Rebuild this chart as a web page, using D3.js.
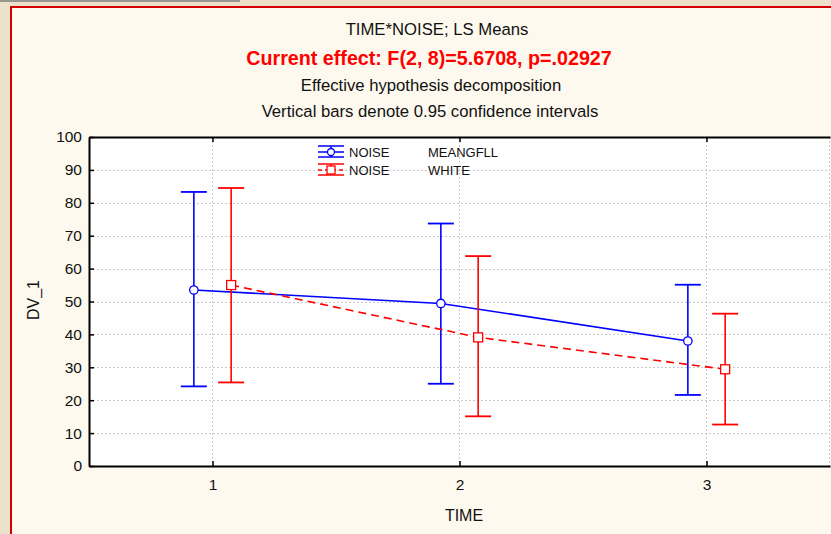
<!DOCTYPE html>
<html>
<head>
<meta charset="utf-8">
<script src="https://cdn.jsdelivr.net/npm/d3@7"></script>
<style>
  html, body { margin: 0; padding: 0; background: #ece2cc; }
  svg { display: block; font-family: Arial, "Liberation Sans", sans-serif; }
</style>
</head>
<body>
<script>
// LS means of DV_1 by TIME for each NOISE level, with 95% confidence limits
const times = [1, 2, 3];
const yTicks = [0, 10, 20, 30, 40, 50, 60, 70, 80, 90, 100];

const meangfllMean  = [53.5, 49.4, 38.0];
const meangfllLower = [24.2, 25.0, 21.6];
const meangfllUpper = [83.3, 73.7, 55.1];

const whiteMean  = [55.0, 39.1, 29.4];
const whiteLower = [25.4, 15.1, 12.6];
const whiteUpper = [84.5, 63.8, 46.3];

const titleLines = [
  "TIME*NOISE; LS Means",
  "Current effect: F(2, 8)=5.6708, p=.02927",
  "Effective hypothesis decomposition",
  "Vertical bars denote 0.95 confidence intervals"
];

const W = 831, H = 534;
const svg = d3.select("body").append("svg").attr("width", W).attr("height", H);

// window background and frame
svg.append("rect").attr("width", W).attr("height", H).attr("fill", "#ece2cc");
svg.append("rect").attr("x", 0).attr("y", 0).attr("width", 240).attr("height", 2).attr("fill", "#9a968e");
svg.append("rect").attr("x", 11).attr("y", 7).attr("width", W).attr("height", H)
  .attr("fill", "#fef9ee").attr("stroke", "#d40000").attr("stroke-width", 2);

// titles
const titleY = [35, 65, 91, 117];
const titleX = [437, 429, 431, 430];
titleLines.forEach((t, i) => {
  svg.append("text")
    .attr("x", titleX[i]).attr("y", titleY[i])
    .attr("text-anchor", "middle")
    .attr("font-size", i === 1 ? 19.7 : 16.7)
    .attr("font-weight", i === 1 ? "bold" : "normal")
    .attr("fill", i === 1 ? "#ff0000" : "#111")
    .text(t);
});

// plot area
const pLeft = 89, pRight = 830, pTop = 137, pBottom = 466;
const x = d3.scaleLinear().domain([0.5, 3.5]).range([pLeft, pRight]);
const y = d3.scaleLinear().domain([0, 100]).range([pBottom, pTop]);
const offset = 0.0755;

svg.append("rect").attr("x", pLeft).attr("y", pTop)
  .attr("width", pRight - pLeft).attr("height", pBottom - pTop).attr("fill", "#fff");

// dotted grid
const grid = svg.append("g").attr("stroke", "#c8c8c8").attr("stroke-width", 1)
  .attr("stroke-dasharray", "2,2");
yTicks.filter(v => v > 0 && v < 100).forEach(v => {
  grid.append("line").attr("x1", pLeft).attr("x2", pRight)
    .attr("y1", Math.round(y(v)) + 0.5).attr("y2", Math.round(y(v)) + 0.5);
});
times.concat([3.5]).forEach(v => {
  grid.append("line").attr("y1", pTop).attr("y2", pBottom)
    .attr("x1", Math.round(x(v)) - 0.5).attr("x2", Math.round(x(v)) - 0.5);
});

// axes with inward ticks
const yAxis = d3.axisLeft(y).tickValues(yTicks).tickSizeInner(-5).tickSizeOuter(0).tickPadding(7);
const gy = svg.append("g").attr("transform", `translate(${pLeft},0)`).call(yAxis);
const xAxis = d3.axisBottom(x).tickValues(times).tickFormat(d3.format("d"))
  .tickSizeInner(-5).tickSizeOuter(0).tickPadding(13);
const gx = svg.append("g").attr("transform", `translate(0,${pBottom})`).call(xAxis);
const xTop = d3.axisTop(x).tickValues(times).tickFormat("").tickSizeInner(-5).tickSizeOuter(0);
const gt = svg.append("g").attr("transform", `translate(0,${pTop})`).call(xTop);
[gx, gy, gt].forEach(g => {
  g.select(".domain").attr("stroke", "#000").attr("stroke-width", 2);
  g.selectAll(".tick line").attr("stroke", "#000").attr("stroke-width", 1.5);
  g.selectAll(".tick text").attr("font-size", 15.5).attr("fill", "#111")
    .attr("font-family", "Arial, 'Liberation Sans', sans-serif");
});

// axis titles
svg.append("text").attr("x", 464).attr("y", 521).attr("text-anchor", "middle")
  .attr("font-size", 16).attr("fill", "#111").text("TIME");
svg.append("text").attr("transform", "translate(39,300) rotate(-90)")
  .attr("text-anchor", "middle").attr("font-size", 16).attr("fill", "#111").text("DV_1");

// series
const series = [
  { mean: meangfllMean, lo: meangfllLower, hi: meangfllUpper, color: "#0000ff", dx: -offset, dash: null, marker: "circle" },
  { mean: whiteMean, lo: whiteLower, hi: whiteUpper, color: "#ff0000", dx: offset, dash: "8,5", marker: "square" }
];
const cap = 13;
const line = d3.line();

series.forEach(s => {
  const g = svg.append("g");
  const pts = times.map((t, i) => [x(t + s.dx), y(s.mean[i])]);
  g.append("path").attr("d", line(pts)).attr("fill", "none")
    .attr("stroke", s.color).attr("stroke-width", 1.6)
    .attr("stroke-dasharray", s.dash);
  times.forEach((t, i) => {
    const cx = x(t + s.dx);
    g.append("line").attr("x1", cx).attr("x2", cx).attr("y1", y(s.lo[i])).attr("y2", y(s.hi[i]))
      .attr("stroke", s.color).attr("stroke-width", 1.6);
    [s.lo[i], s.hi[i]].forEach(v => {
      g.append("line").attr("x1", cx - cap).attr("x2", cx + cap).attr("y1", y(v)).attr("y2", y(v))
        .attr("stroke", s.color).attr("stroke-width", 1.8);
    });
    if (s.marker === "circle") {
      g.append("circle").attr("cx", cx).attr("cy", y(s.mean[i])).attr("r", 4.2)
        .attr("fill", "#fff").attr("stroke", s.color).attr("stroke-width", 1.3);
    } else {
      g.append("rect").attr("x", cx - 4.5).attr("y", y(s.mean[i]) - 4.5).attr("width", 9).attr("height", 9)
        .attr("fill", "#fff").attr("stroke", s.color).attr("stroke-width", 1.3);
    }
  });
});

// legend
const legend = [
  { name: "NOISE", level: "MEANGFLL", color: "#0000ff", dash: null, marker: "circle", cy: 152 },
  { name: "NOISE", level: "WHITE", color: "#ff0000", dash: "4,3", marker: "square", cy: 170 }
];
legend.forEach(l => {
  const g = svg.append("g");
  const x0 = 318, x1 = 344, xc = 331;
  g.append("line").attr("x1", x0).attr("x2", x1).attr("y1", l.cy - 6).attr("y2", l.cy - 6)
    .attr("stroke", l.color).attr("stroke-width", 1.5);
  g.append("line").attr("x1", x0).attr("x2", x1).attr("y1", l.cy + 5).attr("y2", l.cy + 5)
    .attr("stroke", l.color).attr("stroke-width", 1.5);
  g.append("line").attr("x1", xc).attr("x2", xc).attr("y1", l.cy - 6).attr("y2", l.cy + 5)
    .attr("stroke", l.color).attr("stroke-width", 1.5);
  g.append("line").attr("x1", x0).attr("x2", x1).attr("y1", l.cy).attr("y2", l.cy)
    .attr("stroke", l.color).attr("stroke-width", 1.5).attr("stroke-dasharray", l.dash);
  if (l.marker === "circle") {
    g.append("circle").attr("cx", xc).attr("cy", l.cy).attr("r", 3.5)
      .attr("fill", "#fff").attr("stroke", l.color).attr("stroke-width", 1.3);
  } else {
    g.append("rect").attr("x", xc - 4).attr("y", l.cy - 4).attr("width", 8).attr("height", 8)
      .attr("fill", "#fff").attr("stroke", l.color).attr("stroke-width", 1.3);
  }
  g.append("text").attr("x", 349).attr("y", l.cy + 5).attr("font-size", 13).attr("fill", "#111").text(l.name);
  g.append("text").attr("x", 428).attr("y", l.cy + 5).attr("font-size", 13).attr("fill", "#111").text(l.level);
});
</script>
</body>
</html>
